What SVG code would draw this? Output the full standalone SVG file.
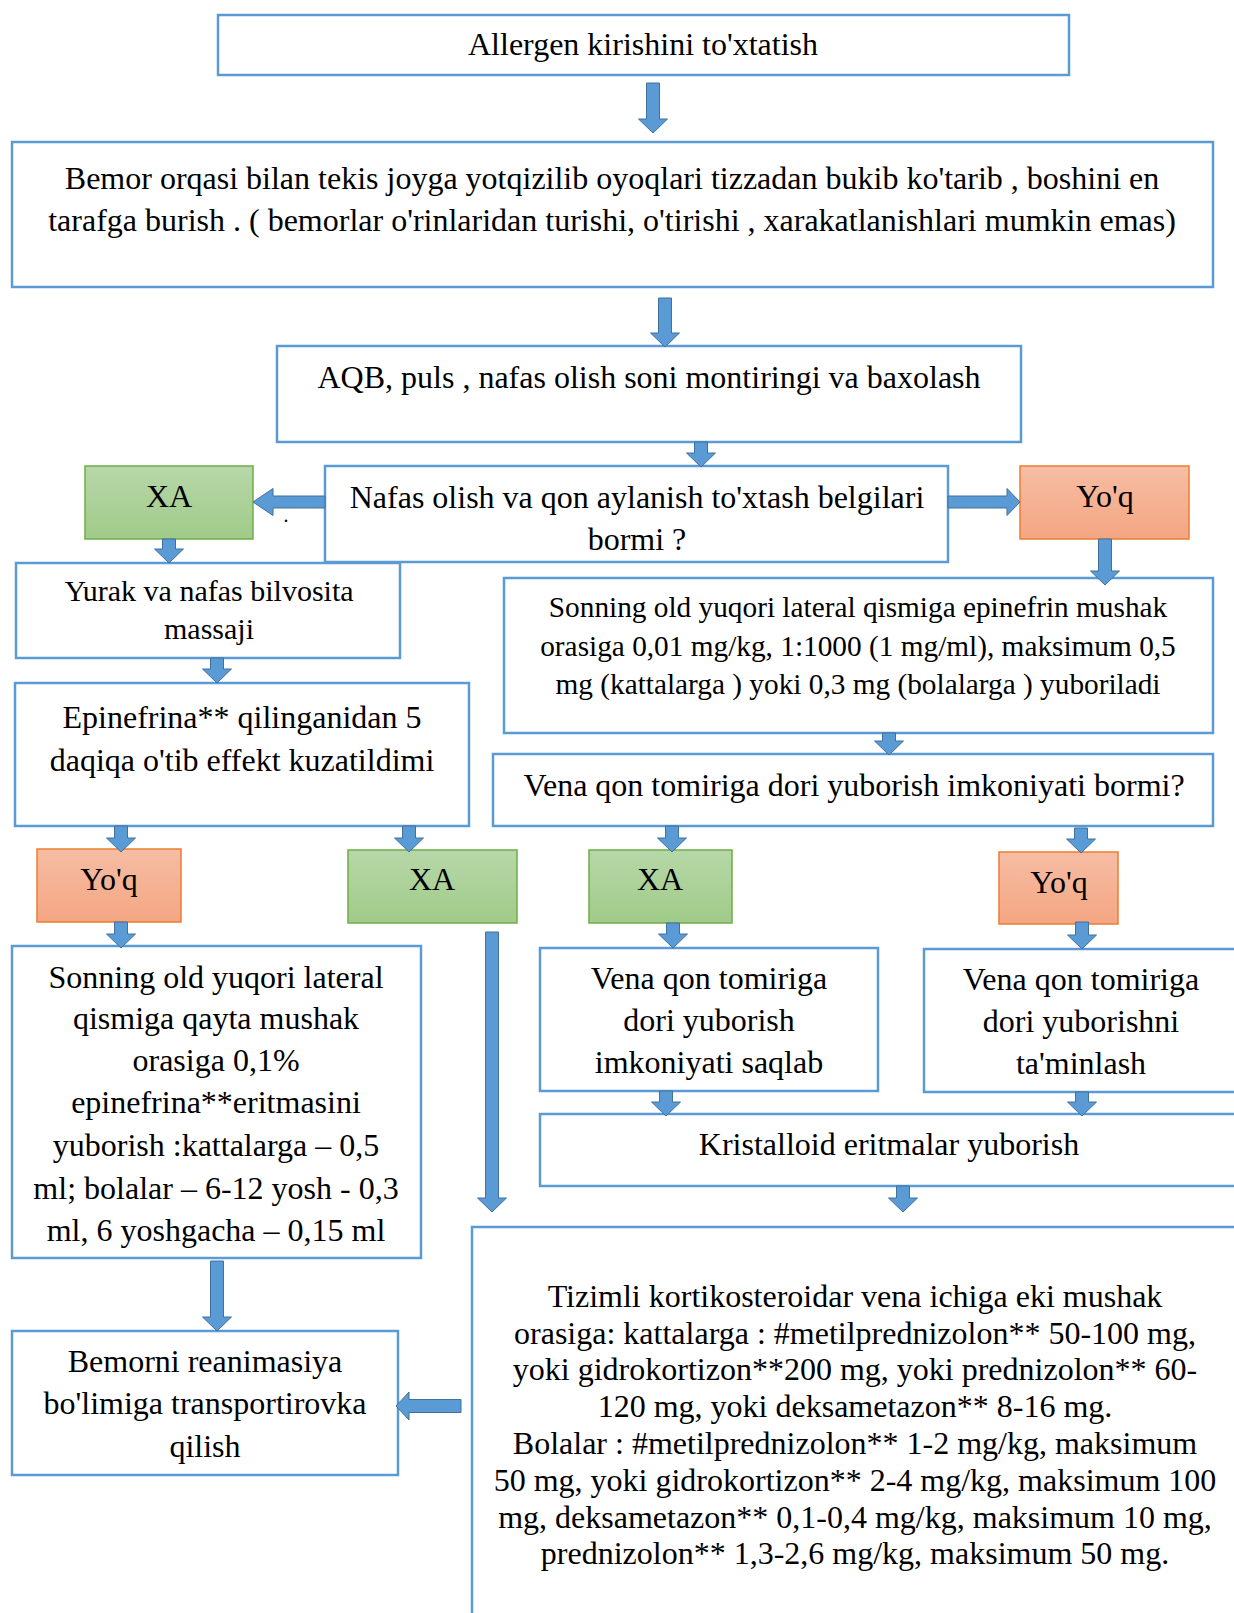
<svg xmlns="http://www.w3.org/2000/svg" width="1234" height="1613" viewBox="0 0 1234 1613">
<defs>
<linearGradient id="gGreen" x1="0" y1="0" x2="0" y2="1"><stop offset="0" stop-color="#B7D7A9"/><stop offset="1" stop-color="#A0CB88"/></linearGradient>
<linearGradient id="gOrange" x1="0" y1="0" x2="0" y2="1"><stop offset="0" stop-color="#F6BDA4"/><stop offset="1" stop-color="#F4A682"/></linearGradient>
<style>
.box{fill:#FFFFFF;stroke:#5B9BD5;stroke-width:2.5}
.yes{fill:url(#gGreen);stroke:#70AD47;stroke-width:1.5}
.no{fill:url(#gOrange);stroke:#ED7D31;stroke-width:1.5}
.arr{fill:#5B9BD5;stroke:#41719C;stroke-width:1}
text{font-family:"Liberation Serif","Times New Roman",serif;font-size:32px;fill:#000;text-anchor:middle}
.s30{font-size:30px}
.s29{font-size:29.3px}
</style>
</defs>
<rect width="1234" height="1613" fill="#FFFFFF"/>
<g id="n1"><rect class="box" x="218" y="15" width="851" height="60"/><text x="643" y="55">Allergen kirishini to'xtatish</text></g>
<g id="n2"><rect class="box" x="12" y="142" width="1201" height="145"/><text x="612" y="189">Bemor orqasi bilan tekis joyga yotqizilib oyoqlari tizzadan bukib ko'tarib , boshini en</text><text x="612" y="231">tarafga burish . ( bemorlar o'rinlaridan turishi, o'tirishi , xarakatlanishlari mumkin emas)</text></g>
<g id="n3"><rect class="box" x="277" y="346" width="744" height="96"/><text x="649" y="388">AQB, puls , nafas olish soni montiringi va baxolash</text></g>
<g id="n4"><rect class="box" x="325" y="466" width="623" height="96"/><text x="637" y="508">Nafas olish va qon aylanish to'xtash belgilari</text><text x="637" y="550">bormi ?</text></g>
<g id="xa1"><rect class="yes" x="85" y="466" width="168" height="73"/><text x="169" y="507">XA</text></g>
<g id="yoq1"><rect class="no" x="1020" y="466" width="169" height="73"/><text x="1105" y="507">Yo'q</text></g>
<g id="n5"><rect class="box" x="16" y="563" width="384" height="95"/><text class="s30" x="209" y="601">Yurak va nafas bilvosita</text><text class="s30" x="209" y="639">massaji</text></g>
<g id="n6"><rect class="box" x="504" y="578" width="709" height="155"/><text class="s29" x="858" y="617">Sonning old yuqori lateral qismiga epinefrin mushak</text><text class="s29" x="858" y="656">orasiga 0,01 mg/kg, 1:1000 (1 mg/ml), maksimum 0,5</text><text class="s29" x="858" y="694">mg (kattalarga ) yoki 0,3 mg (bolalarga ) yuboriladi</text></g>
<g id="n7"><rect class="box" x="15" y="683" width="454" height="143"/><text x="242" y="728">Epinefrina** qilinganidan 5</text><text x="242" y="771">daqiqa o'tib effekt kuzatildimi</text></g>
<g id="n8"><rect class="box" x="493" y="754" width="720" height="72"/><text x="854" y="796">Vena qon tomiriga dori yuborish imkoniyati bormi?</text></g>
<g id="yoq2"><rect class="no" x="37" y="849" width="144" height="73"/><text x="109" y="890">Yo'q</text></g>
<g id="xa2"><rect class="yes" x="348" y="850" width="169" height="73"/><text x="432" y="890">XA</text></g>
<g id="xa3"><rect class="yes" x="589" y="850" width="143" height="73"/><text x="660" y="890">XA</text></g>
<g id="yoq3"><rect class="no" x="999" y="852" width="119" height="72"/><text x="1059" y="893">Yo'q</text></g>
<g id="n9"><rect class="box" x="12" y="946" width="409" height="312"/>
<text x="216" y="988">Sonning old yuqori lateral</text>
<text x="216" y="1029">qismiga qayta mushak</text>
<text x="216" y="1071">orasiga 0,1%</text>
<text x="216" y="1113">epinefrina**eritmasini</text>
<text x="216" y="1156">yuborish :kattalarga – 0,5</text>
<text x="216" y="1199">ml; bolalar – 6-12 yosh - 0,3</text>
<text x="216" y="1241">ml, 6 yoshgacha – 0,15 ml</text></g>
<g id="n10"><rect class="box" x="540" y="948" width="338" height="143"/><text x="709" y="989">Vena qon tomiriga</text><text x="709" y="1031">dori yuborish</text><text x="709" y="1073">imkoniyati saqlab</text></g>
<g id="n11"><rect class="box" x="924" y="949" width="314" height="143"/><text x="1081" y="990">Vena qon tomiriga</text><text x="1081" y="1032">dori yuborishni</text><text x="1081" y="1074">ta'minlash</text></g>
<g id="n12"><rect class="box" x="540" y="1114" width="698" height="72"/><text x="889" y="1155">Kristalloid eritmalar yuborish</text></g>
<g id="n13"><rect class="box" x="472" y="1227" width="766" height="420"/>
<text x="855" y="1307">Tizimli kortikosteroidar vena ichiga eki mushak</text>
<text x="855" y="1344">orasiga: kattalarga : #metilprednizolon** 50-100 mg,</text>
<text x="855" y="1380">yoki gidrokortizon**200 mg, yoki prednizolon** 60-</text>
<text x="855" y="1417">120 mg, yoki deksametazon** 8-16 mg.</text>
<text x="855" y="1454">Bolalar : #metilprednizolon** 1-2 mg/kg, maksimum</text>
<text x="855" y="1491">50 mg, yoki gidrokortizon** 2-4 mg/kg, maksimum 100</text>
<text x="855" y="1528">mg, deksametazon** 0,1-0,4 mg/kg, maksimum 10 mg,</text>
<text x="855" y="1564">prednizolon** 1,3-2,6 mg/kg, maksimum 50 mg.</text></g>
<g id="n14"><rect class="box" x="12" y="1331" width="386" height="144"/><text x="205" y="1372">Bemorni reanimasiya</text><text x="205" y="1414">bo'limiga transportirovka</text><text x="205" y="1457">qilish</text></g>
<text x="286" y="522" style="font-size:20px">.</text>
<g id="connectors">
<polygon class="arr" points="646.5,83 659.5,83 659.5,119 667.5,119 653,133 638.5,119 646.5,119"/>
<polygon class="arr" points="658.5,298 671.5,298 671.5,333 679.5,333 665,347 650.5,333 658.5,333"/>
<polygon class="arr" points="694.5,442 707.5,442 707.5,453 715.5,453 701,467 686.5,453 694.5,453"/>
<polygon class="arr" points="325,496 273,496 273,488.5 253,502 273,515.5 273,508 325,508"/>
<polygon class="arr" points="948,496 1007,496 1007,488.5 1020,502 1007,515.5 1007,508 948,508"/>
<polygon class="arr" points="162.5,539 175.5,539 175.5,549 183.5,549 169,563 154.5,549 162.5,549"/>
<polygon class="arr" points="1098.5,539 1111.5,539 1111.5,571 1119.5,571 1105,585 1090.5,571 1098.5,571"/>
<polygon class="arr" points="210.5,658 223.5,658 223.5,669 231.5,669 217,683 202.5,669 210.5,669"/>
<polygon class="arr" points="882.5,733 895.5,733 895.5,741 903.5,741 889,755 874.5,741 882.5,741"/>
<polygon class="arr" points="114.5,826 127.5,826 127.5,838 135.5,838 121,852 106.5,838 114.5,838"/>
<polygon class="arr" points="402.5,826 415.5,826 415.5,838 423.5,838 409,852 394.5,838 402.5,838"/>
<polygon class="arr" points="665.5,826 678.5,826 678.5,838 686.5,838 672,852 657.5,838 665.5,838"/>
<polygon class="arr" points="1074.5,828 1087.5,828 1087.5,839 1095.5,839 1081,853 1066.5,839 1074.5,839"/>
<polygon class="arr" points="114.5,922 127.5,922 127.5,934 135.5,934 121,948 106.5,934 114.5,934"/>
<polygon class="arr" points="485.5,932 498.5,932 498.5,1198 506.5,1198 492,1212 477.5,1198 485.5,1198"/>
<polygon class="arr" points="666.5,923 679.5,923 679.5,934 687.5,934 673,948 658.5,934 666.5,934"/>
<polygon class="arr" points="1075.5,922 1088.5,922 1088.5,935 1096.5,935 1082,949 1067.5,935 1075.5,935"/>
<polygon class="arr" points="659.5,1091 672.5,1091 672.5,1102 680.5,1102 666,1116 651.5,1102 659.5,1102"/>
<polygon class="arr" points="1075.5,1092 1088.5,1092 1088.5,1102 1096.5,1102 1082,1116 1067.5,1102 1075.5,1102"/>
<polygon class="arr" points="896.5,1186 909.5,1186 909.5,1198 917.5,1198 903,1212 888.5,1198 896.5,1198"/>
<polygon class="arr" points="210.5,1261 223.5,1261 223.5,1317 231.5,1317 217,1331 202.5,1317 210.5,1317"/>
<polygon class="arr" points="461,1399.5 409,1399.5 409,1392 396,1406 409,1420 409,1412.5 461,1412.5"/>
</g>
</svg>
